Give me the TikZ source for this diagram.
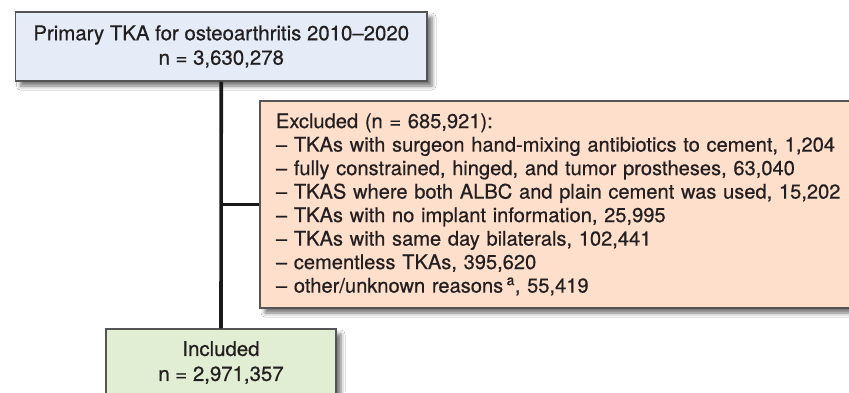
\documentclass[tikz,border=0pt]{standalone}
\usepackage{fontspec}
\setmainfont{TeX Gyre Heros}[FakeBold=0.6]
\usetikzlibrary{shadows.blur}
\definecolor{topfill}{HTML}{E5ECF7}
\definecolor{exfill}{HTML}{FDDFCC}
\definecolor{infill}{HTML}{E2EED4}
\definecolor{bordc}{HTML}{555555}
\definecolor{txtc}{HTML}{231F20}
\tikzset{
  flowbox/.style={draw=bordc, line width=1.2pt, rectangle, text=txtc,
    font=\fontsize{20.4}{24.5}\selectfont,
    blur shadow={shadow xshift=5pt, shadow yshift=-5pt, shadow blur radius=4pt, shadow opacity=55}},
  conn/.style={draw=black!90, line width=3.6pt}
}
\begin{document}
\begin{tikzpicture}[x=1pt,y=1pt]
\useasboundingbox (0,0) rectangle (849,-392);
\clip (0,0) rectangle (849,-392);
\fill[white] (0,0) rectangle (849,-392);
\node[flowbox, fill=topfill, minimum width=411.5pt, minimum height=69pt, align=center, inner sep=0pt]
  (top) at (221.25,-46.5) {Primary TKA for osteoarthritis 2010–2020\\n = 3,630,278};
\node[flowbox, fill=exfill, minimum width=640pt, minimum height=207pt, inner xsep=16pt, inner ysep=0pt,
  text width=608pt, align=left, font=\fontsize{20.1}{23.5}\selectfont]
  (excl) at (580,-204.5) {Excluded (n = 685,921):\\
– TKAs with surgeon hand-mixing antibiotics to cement, 1,204\\
– fully constrained, hinged, and tumor prostheses, 63,040\\
– TKAS where both ALBC and plain cement was used, 15,202\\
– TKAs with no implant information, 25,995\\
– TKAs with same day bilaterals, 102,441\\
– cementless TKAs, 395,620\\
– other/unknown reasons\,\textsuperscript{a}, 55,419};
\node[flowbox, fill=infill, minimum width=230pt, minimum height=67pt, align=center, inner sep=0pt,
  font=\fontsize{20.4}{25}\selectfont]
  (incl) at (221,-362.5) {Included\\n = 2,971,357};
\draw[conn] (top.south) -- (incl.north);
\draw[conn] (top.south |- excl.west) -- (excl.west);
\end{tikzpicture}
\end{document}
